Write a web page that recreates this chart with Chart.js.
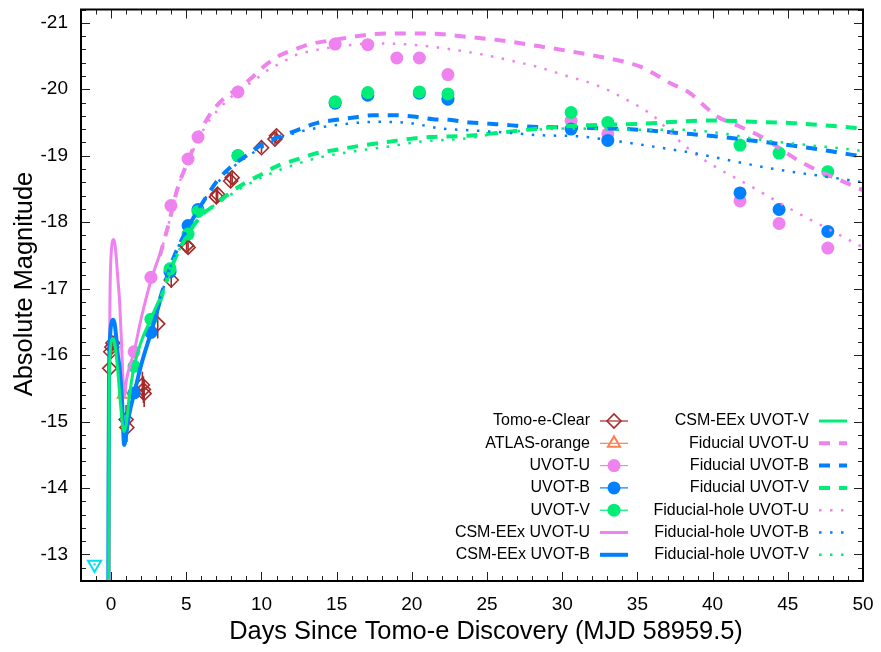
<!DOCTYPE html>
<html><head><meta charset="utf-8">
<script src="https://cdn.jsdelivr.net/npm/chart.js@4.4.1/dist/chart.umd.min.js"></script>
<style>html,body{margin:0;padding:0;background:#fff}#wrap{width:881px;height:652px}</style>
</head><body><div id="wrap"><canvas id="c" width="881" height="652"></canvas></div>
<script>
// ---------------- data ----------------
const tomoDays = [-0.09, -0.02, 0.05, 0.12, 1.0, 1.05, 2.08, 2.15, 2.2, 3.1, 4.0, 5.02, 5.12, 7.0, 7.08, 7.95, 8.05, 10.0, 10.9, 11.0];
const tomoMag  = [-15.8, -16.05, -16.12, -16.18, -15.03, -14.91, -15.55, -15.48, -15.42, -16.47, -17.13, -17.65, -17.62, -18.38, -18.42, -18.62, -18.67, -19.12, -19.25, -19.3];
const tomoErr  = [0.1, 0.1, 0.1, 0.1, 0.22, 0.22, 0.2, 0.2, 0.2, 0.22, 0.12, 0.08, 0.08, 0.1, 0.1, 0.1, 0.1, 0.08, 0.08, 0.08];

const atlasDays = [0.85];
const atlasMag  = [-15.41];

const limitDays = [-1.1];
const limitMag  = [-12.85];

const uvotUDays = [1.53, 2.65, 3.98, 5.12, 5.78, 8.44, 14.9, 17.07, 19.0, 20.5, 22.4, 30.59, 33.03, 41.82, 44.42, 47.66];
const uvotUMag  = [-16.05, -17.17, -18.25, -18.95, -19.28, -19.96, -20.68, -20.67, -20.47, -20.47, -20.22, -19.53, -19.33, -18.32, -17.98, -17.61];

const uvotBVDays = [1.53, 2.65, 3.92, 5.12, 5.78, 8.44, 14.9, 17.07, 20.5, 22.4, 30.59, 33.03, 41.82, 44.42, 47.66];
const uvotBMag   = [-15.43, -16.34, -17.25, -17.95, -18.19, -19.0, -19.79, -19.91, -19.94, -19.85, -19.4, -19.23, -18.44, -18.19, -17.86];
const uvotVMag   = [-15.83, -16.54, -17.3, -17.82, -18.16, -19.0, -19.81, -19.95, -19.96, -19.93, -19.65, -19.5, -19.16, -19.04, -18.76];

const csmUDays = [-0.14, -0.12, -0.1, -0.07, -0.03, 0.03, 0.1, 0.18, 0.26, 0.35, 0.45, 0.57, 0.7, 0.83, 0.88, 1.0, 1.53, 2.0, 2.65, 3.25];
const csmUMag  = [-11.0, -14.0, -16.0, -16.9, -17.35, -17.6, -17.72, -17.74, -17.66, -17.45, -17.15, -16.8, -16.15, -15.45, -15.37, -15.6, -16.05, -16.55, -17.12, -17.52];
const csmBDays = [-0.2, -0.17, -0.14, -0.1, -0.04, 0.05, 0.15, 0.25, 0.35, 0.45, 0.57, 0.73, 0.87, 1.0, 1.2, 1.58, 2.0, 2.64, 3.24];
const csmBMag  = [-11.0, -14.0, -15.6, -16.1, -16.38, -16.5, -16.53, -16.45, -16.25, -16.0, -15.8, -15.3, -14.65, -14.8, -15.1, -15.46, -15.85, -16.33, -16.8];
const csmVDays = [-0.18, -0.15, -0.12, -0.07, 0.0, 0.1, 0.2, 0.3, 0.45, 0.65, 0.85, 1.0, 1.2, 1.53, 2.0, 2.65, 3.24];
const csmVMag  = [-11.0, -14.0, -15.6, -16.0, -16.18, -16.25, -16.22, -16.08, -15.75, -15.2, -14.85, -14.95, -15.35, -15.83, -16.2, -16.55, -16.85];

const fidUDays = [3.25, 3.8, 4.46, 5.13, 5.8, 6.6, 7.45, 8.4, 9.24, 10.2, 11.23, 12.34, 13.44, 14.8, 16.1, 18.3, 21.0, 23.6, 26.1, 28.1, 30.3, 32.5, 35.2, 37.2, 38.5, 39.4, 40.3, 41.6, 43.2, 46.0, 49.4, 50.0];
const fidUMag  = [-17.5, -17.95, -18.54, -18.92, -19.3, -19.63, -19.85, -20.01, -20.15, -20.35, -20.51, -20.61, -20.69, -20.74, -20.79, -20.84, -20.84, -20.79, -20.73, -20.66, -20.58, -20.49, -20.34, -20.09, -19.94, -19.76, -19.59, -19.46, -19.29, -18.89, -18.54, -18.48];
const fidBDays = [3.25, 4.13, 5.24, 6.45, 7.12, 8.12, 9.0, 10.24, 11.4, 12.44, 13.67, 15.0, 16.3, 17.43, 18.76, 20.1, 21.4, 22.5, 23.87, 25.2, 26.5, 27.6, 29.0, 31.4, 35.2, 37.8, 40.3, 42.9, 45.4, 47.8, 49.1, 50.0];
const fidBMag  = [-16.85, -17.45, -17.97, -18.42, -18.64, -18.86, -19.0, -19.2, -19.3, -19.39, -19.49, -19.54, -19.58, -19.61, -19.61, -19.59, -19.55, -19.54, -19.5, -19.48, -19.46, -19.44, -19.43, -19.42, -19.39, -19.34, -19.29, -19.22, -19.15, -19.07, -19.02, -18.99];
const fidVDays = [3.25, 3.9, 4.57, 6.0, 6.8, 7.9, 8.9, 10.1, 11.0, 12.3, 13.7, 15.0, 16.3, 18.5, 20.1, 21.2, 23.6, 25.6, 27.6, 29.5, 31.85, 35.2, 37.6, 40.1, 42.7, 45.4, 47.8, 49.4, 50.0];
const fidVMag  = [-16.8, -17.25, -17.6, -18.1, -18.24, -18.44, -18.59, -18.73, -18.84, -18.94, -19.04, -19.09, -19.14, -19.21, -19.26, -19.28, -19.3, -19.34, -19.39, -19.43, -19.46, -19.48, -19.51, -19.53, -19.51, -19.49, -19.45, -19.42, -19.4];

const holeUDays = [3.25, 3.8, 4.46, 5.13, 5.8, 6.6, 7.5, 8.5, 9.5, 10.5, 11.5, 12.1, 13.4, 15.7, 17.5, 20.0, 22.0, 24.5, 27.0, 28.3, 30.3, 32.3, 34.3, 36.1, 37.6, 38.7, 40.5, 42.3, 45.4, 48.5, 50.0];
const holeUMag  = [-17.5, -17.95, -18.54, -18.9, -19.25, -19.55, -19.78, -19.98, -20.13, -20.3, -20.42, -20.5, -20.58, -20.66, -20.69, -20.67, -20.62, -20.53, -20.41, -20.34, -20.2, -20.06, -19.84, -19.59, -19.26, -19.05, -18.79, -18.57, -18.17, -17.8, -17.62];
const holeBDays = [3.25, 4.13, 5.24, 6.45, 8.12, 10.0, 11.4, 13.3, 15.7, 17.66, 19.9, 21.9, 24.1, 26.7, 28.3, 31.2, 33.0, 35.4, 37.4, 39.0, 40.9, 43.6, 45.8, 48.0, 50.0];
const holeBMag  = [-16.85, -17.45, -17.97, -18.42, -18.83, -19.12, -19.28, -19.4, -19.48, -19.51, -19.49, -19.41, -19.38, -19.34, -19.31, -19.29, -19.24, -19.16, -19.09, -19.03, -18.94, -18.82, -18.74, -18.67, -18.6];
const holeVDays = [3.25, 3.9, 4.57, 6.0, 8.0, 10.0, 12.0, 14.0, 16.3, 18.5, 20.5, 23.6, 25.9, 28.1, 30.7, 34.3, 37.8, 40.5, 43.2, 46.3, 48.5, 50.0];
const holeVMag  = [-16.8, -17.25, -17.6, -18.08, -18.42, -18.67, -18.85, -18.98, -19.07, -19.14, -19.21, -19.26, -19.34, -19.39, -19.41, -19.39, -19.39, -19.34, -19.24, -19.16, -19.11, -19.07];

const xTickValues = [0, 5, 10, 15, 20, 25, 30, 35, 40, 45, 50];
const yTickValues = [-21, -20, -19, -18, -17, -16, -15, -14, -13];
const xTitle = 'Days Since Tomo-e Discovery (MJD 58959.5)';
const yTitle = 'Absolute Magnitude';

// ---------------- styling ----------------
const C = {brown:'#a52a2a', coral:'#ff7f50', violet:'#ee82ee', blue:'#0080ff', green:'#00ee77', cyan:'#00e0ee'};
const FONT = "'Liberation Sans', Arial, Helvetica, sans-serif";
const pts = (xs, ys) => xs.map((x, i) => ({x, y: ys[i]}));

function scatterDs(label, xs, ys, o) {
  return Object.assign({label, data: pts(xs, ys), showLine: false, pointHoverRadius: 0}, o);
}
function lineDs(label, xs, ys, color, width, dash) {
  return {label, data: pts(xs, ys), showLine: true, pointRadius: 0, pointHoverRadius: 0,
    borderColor: color, borderWidth: width, borderDash: dash || [], fill: false,
    cubicInterpolationMode: 'monotone', borderCapStyle: 'butt', borderJoinStyle: 'round'};
}
const DASH = [11, 9], DOT = [2.5, 8.5];

const datasets = [
  scatterDs('Tomo-e-Clear', tomoDays, tomoMag, {pointStyle:'rectRot', pointRadius:7, borderColor:C.brown, backgroundColor:'rgba(0,0,0,0)', borderWidth:1.6, errs: tomoErr}),
  scatterDs('ATLAS-orange', atlasDays, atlasMag, {pointStyle:'triangle', pointRadius:7, borderColor:C.coral, backgroundColor:'rgba(0,0,0,0)', borderWidth:2}),
  scatterDs('UVOT-U', uvotUDays, uvotUMag, {pointStyle:'circle', pointRadius:6.5, borderWidth:0, backgroundColor:C.violet, borderColor:C.violet}),
  scatterDs('UVOT-B', uvotBVDays, uvotBMag, {pointStyle:'circle', pointRadius:6.5, borderWidth:0, backgroundColor:C.blue, borderColor:C.blue}),
  scatterDs('UVOT-V', uvotBVDays, uvotVMag, {pointStyle:'circle', pointRadius:6.5, borderWidth:0, backgroundColor:C.green, borderColor:C.green}),
  lineDs('CSM-EEx UVOT-U', csmUDays, csmUMag, C.violet, 3),
  lineDs('CSM-EEx UVOT-B', csmBDays, csmBMag, C.blue, 4),
  lineDs('CSM-EEx UVOT-V', csmVDays, csmVMag, C.green, 3),
  lineDs('Fiducial UVOT-U', fidUDays, fidUMag, C.violet, 4, DASH),
  lineDs('Fiducial UVOT-B', fidBDays, fidBMag, C.blue, 4, DASH),
  lineDs('Fiducial UVOT-V', fidVDays, fidVMag, C.green, 4, DASH),
  lineDs('Fiducial-hole UVOT-U', holeUDays, holeUMag, C.violet, 2.5, DOT),
  lineDs('Fiducial-hole UVOT-B', holeBDays, holeBMag, C.blue, 2.5, DOT),
  lineDs('Fiducial-hole UVOT-V', holeVDays, holeVMag, C.green, 2.5, DOT),
  scatterDs('', limitDays, limitMag, {pointStyle:'triangle', rotation:180, pointRadius:7.5, borderColor:C.cyan, backgroundColor:'rgba(0,0,0,0)', borderWidth:2}),
  scatterDs('', limitDays, limitMag, {pointStyle:'circle', pointRadius:1.2, borderWidth:0, backgroundColor:C.cyan})
];
datasets.forEach((d, i) => { d.order = -i; });

// ---------------- custom drawing plugin ----------------
function marker(ctx, kind, x, y, color) {
  ctx.save();
  ctx.strokeStyle = color; ctx.fillStyle = color;
  if (kind === 'diamond') {
    ctx.lineWidth = 1.6; const r = 7;
    ctx.beginPath(); ctx.moveTo(x - r, y); ctx.lineTo(x, y - r); ctx.lineTo(x + r, y); ctx.lineTo(x, y + r); ctx.closePath(); ctx.stroke();
  } else if (kind === 'triangle') {
    ctx.lineWidth = 2; const r = 7;
    ctx.beginPath(); ctx.moveTo(x, y - r); ctx.lineTo(x + r * 0.866, y + r * 0.5); ctx.lineTo(x - r * 0.866, y + r * 0.5); ctx.closePath(); ctx.stroke();
  } else if (kind === 'circle') {
    ctx.beginPath(); ctx.arc(x, y, 6.5, 0, Math.PI * 2); ctx.fill();
  }
  ctx.restore();
}

const framePlugin = {
  id: 'frame',
  beforeDatasetsDraw(chart) {
    const ctx = chart.ctx, xs = chart.scales.x, ys = chart.scales.y;
    chart.data.datasets.forEach(ds => {
      if (!ds.errs) return;
      ctx.save(); ctx.strokeStyle = ds.borderColor; ctx.lineWidth = 1.6;
      ds.data.forEach((p, i) => {
        const px = xs.getPixelForValue(p.x);
        ctx.beginPath();
        ctx.moveTo(px, ys.getPixelForValue(p.y - ds.errs[i]));
        ctx.lineTo(px, ys.getPixelForValue(p.y + ds.errs[i]));
        ctx.stroke();
      });
      ctx.restore();
    });
  },
  afterDraw(chart) {
    const ctx = chart.ctx, a = chart.chartArea, xs = chart.scales.x, ys = chart.scales.y;
    ctx.save();
    // ticks (inward, mirrored)
    ctx.strokeStyle = '#222'; ctx.lineWidth = 1;
    for (let v = -2; v <= 50; v++) {
      const px = Math.round(xs.getPixelForValue(v)) + 0.5;
      const len = (v % 5 === 0) ? 9 : 5;
      ctx.beginPath();
      ctx.moveTo(px, a.bottom); ctx.lineTo(px, a.bottom - len);
      ctx.moveTo(px, a.top); ctx.lineTo(px, a.top + len);
      ctx.stroke();
    }
    for (let k = -106; k <= -63; k++) {
      const v = k / 5;
      const py = Math.round(ys.getPixelForValue(v)) + 0.5;
      const len = (k % 5 === 0) ? 9 : 5;
      ctx.beginPath();
      ctx.moveTo(a.left, py); ctx.lineTo(a.left + len, py);
      ctx.moveTo(a.right, py); ctx.lineTo(a.right - len, py);
      ctx.stroke();
    }
    // border
    ctx.strokeStyle = '#000'; ctx.lineWidth = 2;
    ctx.strokeRect(a.left, a.top, a.right - a.left, a.bottom - a.top);

    // axis titles
    ctx.fillStyle = '#000'; ctx.textAlign = 'center'; ctx.textBaseline = 'middle';
    ctx.font = '25.4px ' + FONT;
    ctx.fillText(xTitle, 486, 632);
    ctx.save(); ctx.translate(25, 284); ctx.rotate(-Math.PI / 2);
    ctx.fillText(yTitle, 0, 0); ctx.restore();

    // legend (two columns, gnuplot style)
    const dsets = chart.data.datasets;
    const kinds = ['diamond', 'triangle', 'circle', 'circle', 'circle'];
    ctx.font = '16px ' + FONT; ctx.textAlign = 'right'; ctx.textBaseline = 'middle'; ctx.fillStyle = '#000';
    for (let i = 0; i < 14; i++) {
      const col = i < 7 ? 0 : 1, row = i % 7;
      const tx = col === 0 ? 590 : 809;
      const y = 421 + row * 22.3;
      const s1 = tx + 10, s2 = tx + 38;
      const ds = dsets[i];
      ctx.fillStyle = '#000';
      ctx.fillText(ds.label, tx, y);
      const color = ds.borderColor || ds.backgroundColor;
      if (i < 5) {
        ctx.save(); ctx.strokeStyle = color; ctx.lineWidth = 1.2;
        ctx.beginPath(); ctx.moveTo(s1, y); ctx.lineTo(s2, y); ctx.stroke(); ctx.restore();
        marker(ctx, kinds[i], (s1 + s2) / 2, y, color);
      } else {
        ctx.save(); ctx.strokeStyle = color; ctx.lineWidth = ds.borderWidth; ctx.setLineDash(ds.borderDash);
        ctx.beginPath(); ctx.moveTo(s1, y); ctx.lineTo(s2, y); ctx.stroke(); ctx.restore();
      }
    }
    ctx.restore();
  }
};

new Chart(document.getElementById('c'), {
  type: 'scatter',
  data: {datasets},
  options: {
    responsive: false, animation: false, devicePixelRatio: 1,
    layout: {padding: {top: 5, right: 18, left: 0, bottom: 0}},
    plugins: {legend: {display: false}, tooltip: {enabled: false}},
    elements: {line: {tension: 0}},
    scales: {
      x: {
        type: 'linear', min: -2, max: 50,
        afterFit(s) { s.height = 71; s.paddingLeft = 0; s.paddingRight = 0; },
        afterBuildTicks(s) { s.ticks = xTickValues.map(v => ({value: v})); },
        grid: {display: false, drawTicks: false}, border: {display: false},
        ticks: {font: {size: 19, family: FONT}, color: '#000', padding: 12, autoSkip: false, maxRotation: 0},
        title: {display: false}
      },
      y: {
        type: 'linear', reverse: true, min: -21.2, max: -12.6,
        afterFit(s) { s.width = 81; s.paddingTop = 0; s.paddingBottom = 0; },
        afterBuildTicks(s) { s.ticks = yTickValues.map(v => ({value: v})); },
        grid: {display: false, drawTicks: false}, border: {display: false},
        ticks: {font: {size: 19, family: FONT}, color: '#000', padding: 13, autoSkip: false},
        title: {display: false}
      }
    }
  },
  plugins: [framePlugin]
});
</script>
</body></html>
